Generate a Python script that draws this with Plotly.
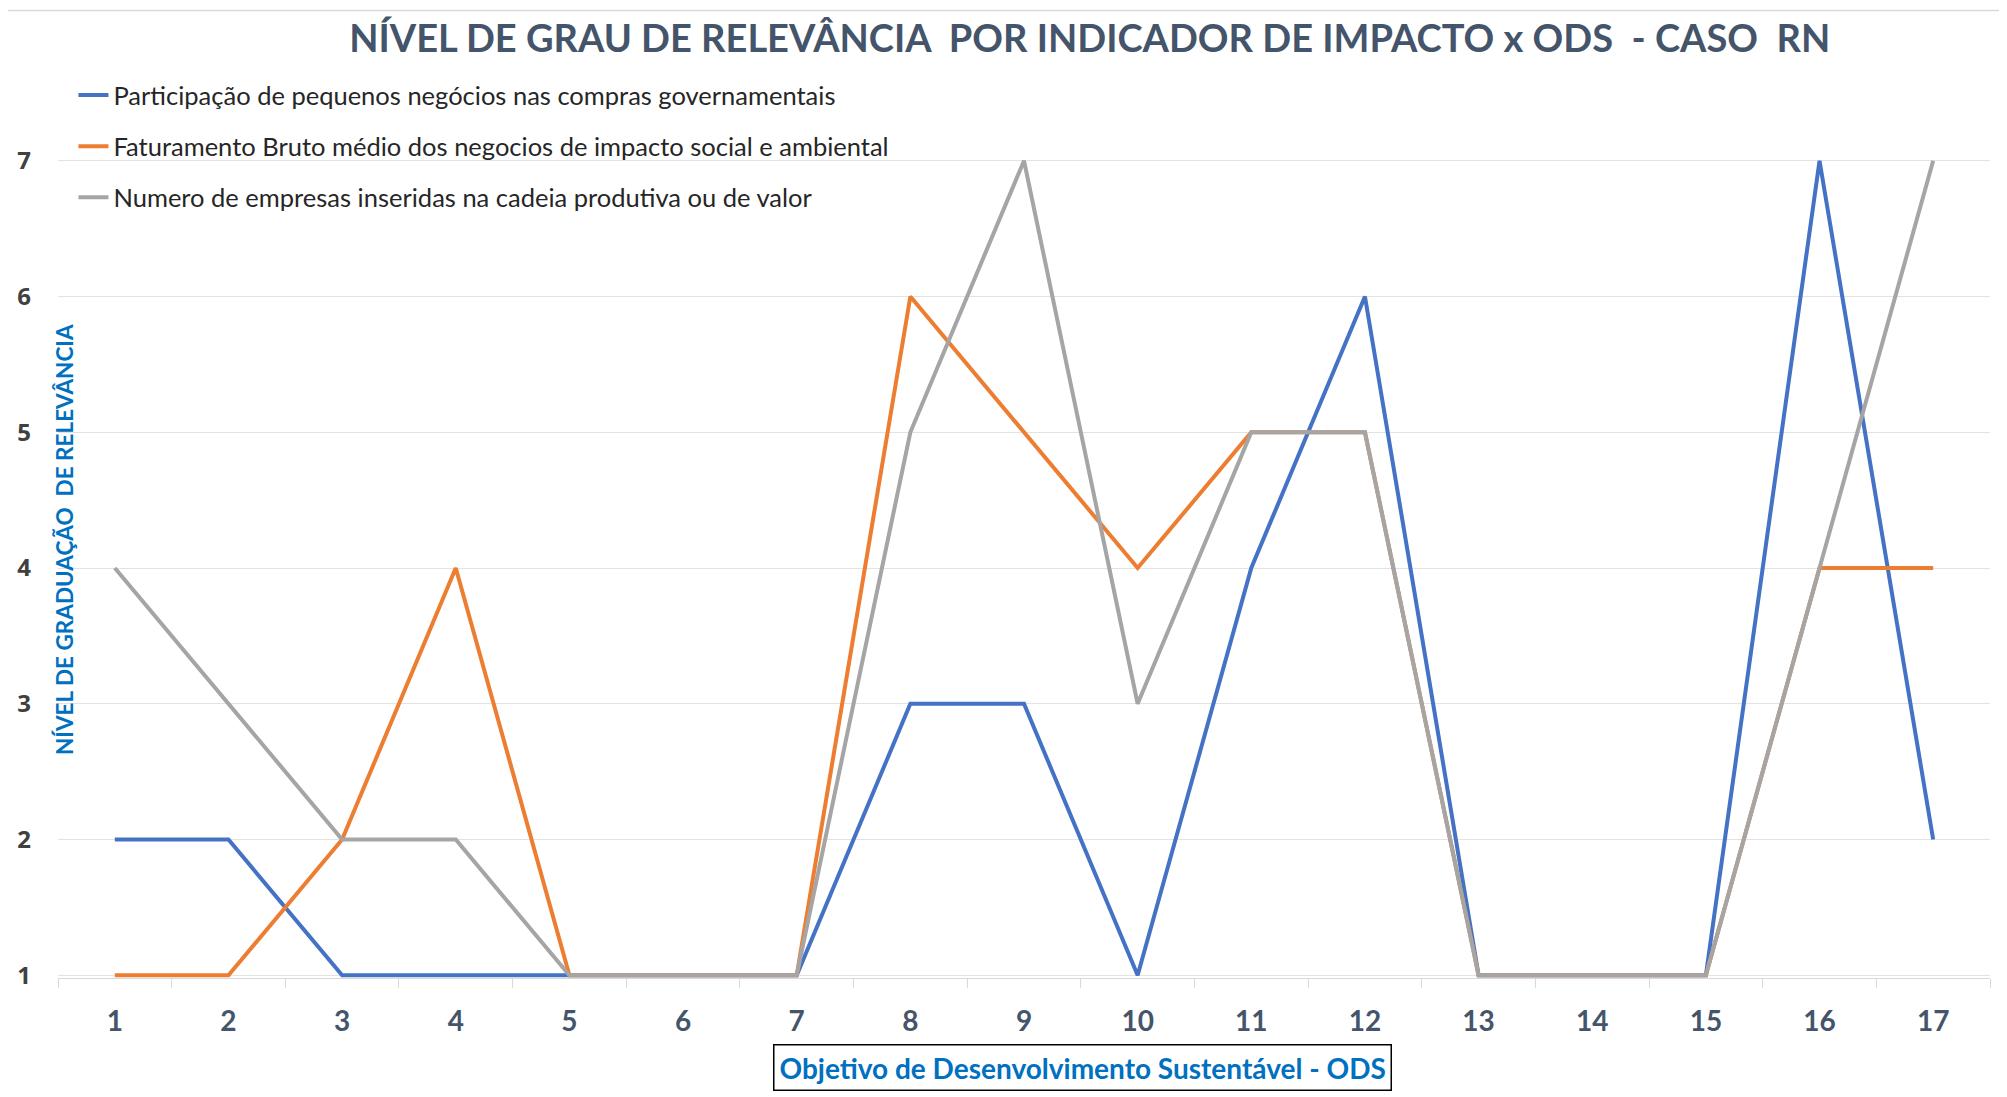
import plotly.graph_objects as go

ods = [str(i) for i in range(1, 18)]
participacao = [2, 2, 1, 1, 1, 1, 1, 3, 3, 1, 4, 6, 1, 1, 1, 7, 2]
faturamento = [1, 1, 2, 4, 1, 1, 1, 6, 5, 4, 5, 5, 1, 1, 1, 4, 4]
numero_empresas = [4, 3, 2, 2, 1, 1, 1, 5, 7, 3, 5, 5, 1, 1, 1, 4, 7]

series_names = [
    "Participação de pequenos negócios nas compras governamentais",
    "Faturamento Bruto médio dos negocios de impacto social e ambiental",
    "Numero de empresas inseridas na cadeia produtiva ou de valor",
]
series_values = [participacao, faturamento, numero_empresas]
series_colors = ["#4472C4", "#ED7D31", "#A5A5A5"]

fig = go.Figure()
for i, (name, vals, col) in enumerate(zip(series_names, series_values, series_colors)):
    fig.add_trace(go.Scatter(
        x=ods, y=vals, name=name, mode="lines",
        line=dict(color=col, width=4),
        legendgroup=f"g{i}",
    ))

fig.update_layout(
    width=2007, height=1097,
    paper_bgcolor="white", plot_bgcolor="white",
    margin=dict(l=50, r=25, t=150, b=127),
    title=dict(
        text="NÍVEL DE GRAU DE RELEVÂNCIA  POR INDICADOR DE IMPACTO x ODS  - CASO  RN",
        font=dict(family="Lato", size=38, color="#44546A", weight="bold"),
        x=0.539, xanchor="center", xref="container",
        y=0.972, yanchor="middle", yref="container",
    ),
    legend=dict(
        x=0.008, xanchor="left", y=1.105, yanchor="top",
        orientation="v",
        font=dict(family="Lato", size=25.5, color="#262626"),
        bgcolor="rgba(0,0,0,0)",
        tracegroupgap=15,
    ),
    showlegend=True,
)

fig.update_xaxes(
    type="category",
    range=[-0.5, 16.5],
    tickson="boundaries",
    ticks="outside", ticklen=9, tickcolor="#D9D9D9", tickwidth=1,
    showline=True, linecolor="#D9D9D9", linewidth=1,
    showgrid=False,
    tickfont=dict(family="Lato", size=28, color="#44546A", weight="bold"),
    ticklabelstandoff=18,
    automargin=False,
)
fig.update_yaxes(
    range=[0.98, 7.02],
    tickvals=[1, 2, 3, 4, 5, 6, 7],
    showgrid=True, gridcolor="#E3E3E3", gridwidth=1,
    zeroline=False, showline=False,
    tickfont=dict(family="Open Sans", size=24, color="#404040", weight="bold"),
    ticklabelstandoff=26,
    automargin=False,
)

fig.add_annotation(
    text="NÍVEL DE GRADUAÇÃO  DE RELEVÂNCIA",
    xref="paper", yref="paper", x=0.0, y=0.534, xshift=6,
    xanchor="center", yanchor="middle", textangle=-90, showarrow=False,
    font=dict(family="Lato", size=22.5, color="#0070C0", weight="bold"),
)
fig.add_annotation(
    text="Objetivo de Desenvolvimento Sustentável - ODS",
    xref="paper", yref="paper", x=0.5305, y=-0.109,
    xanchor="center", yanchor="middle", showarrow=False,
    font=dict(family="Lato", size=28, color="#0070C0", weight="bold"),
    bordercolor="#000000", borderwidth=1.5, borderpad=5, bgcolor="white",
)
fig.add_shape(
    type="line", xref="paper", yref="paper",
    x0=-0.03, x1=1.01, y0=1.18, y1=1.18,
    line=dict(color="#D9D9D9", width=1.5),
)

fig.write_html("out.html")
